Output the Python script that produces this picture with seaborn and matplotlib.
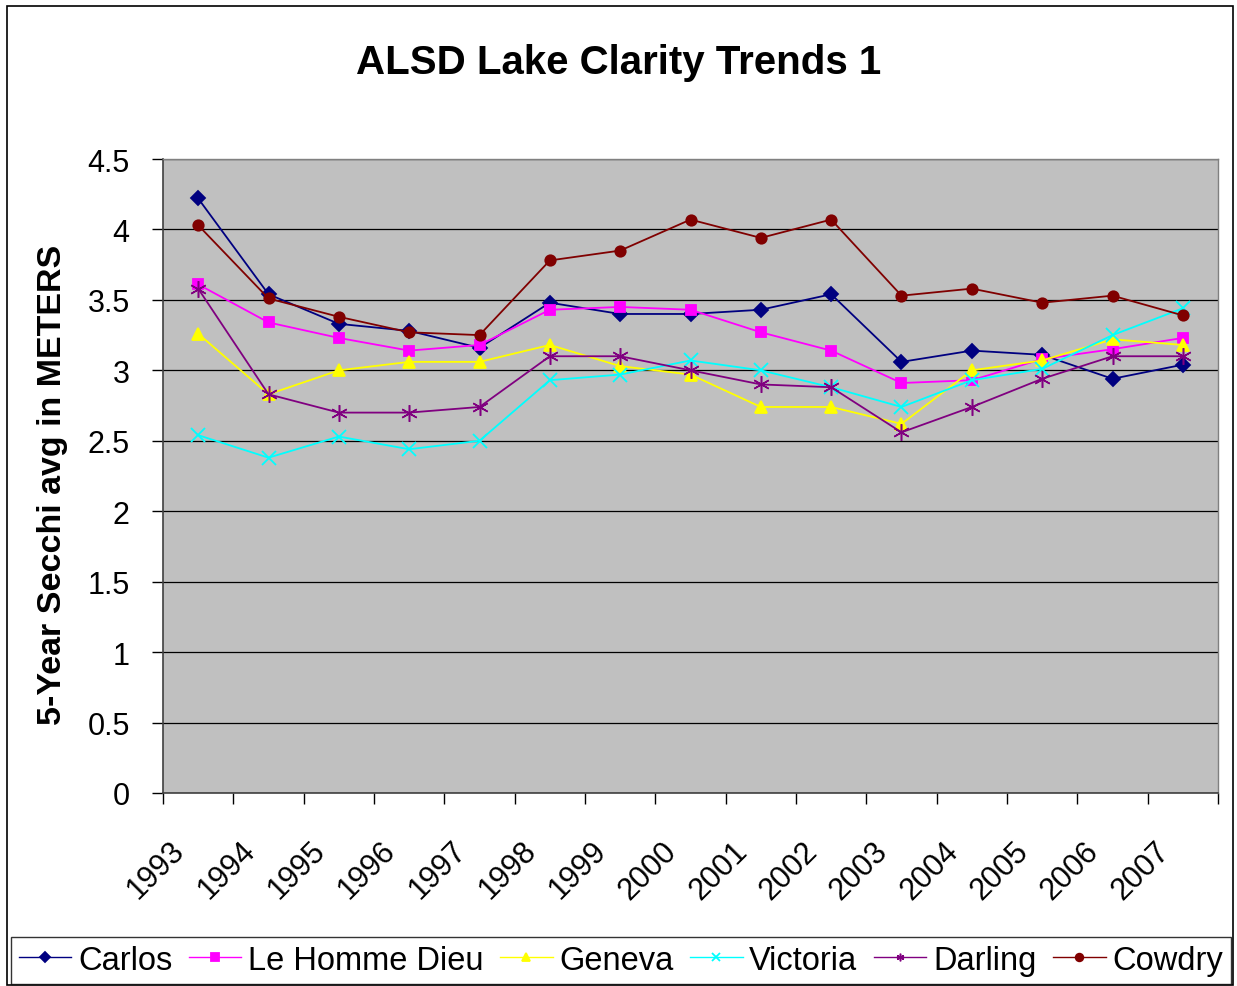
import matplotlib
matplotlib.use("Agg")
import matplotlib.pyplot as plt
import matplotlib.patches as mpatches
from matplotlib.transforms import ScaledTranslation
import numpy as np
import pandas as pd
import seaborn as sns

# ---- data ----
years = ["1993", "1994", "1995", "1996", "1997", "1998", "1999", "2000",
         "2001", "2002", "2003", "2004", "2005", "2006", "2007"]
carlos = [4.22, 3.54, 3.33, 3.28, 3.16, 3.48, 3.40, 3.40, 3.43, 3.54, 3.06, 3.14, 3.11, 2.94, 3.04]
le_homme_dieu = [3.61, 3.34, 3.23, 3.14, 3.18, 3.43, 3.45, 3.43, 3.27, 3.14, 2.91, 2.93, 3.08, 3.15, 3.23]
geneva = [3.26, 2.83, 3.00, 3.06, 3.06, 3.18, 3.03, 2.97, 2.74, 2.74, 2.62, 3.00, 3.07, 3.22, 3.18]
victoria = [2.54, 2.38, 2.53, 2.44, 2.50, 2.93, 2.97, 3.07, 3.00, 2.88, 2.74, 2.93, 3.01, 3.25, 3.44]
darling = [3.58, 2.83, 2.70, 2.70, 2.74, 3.10, 3.10, 3.00, 2.90, 2.88, 2.56, 2.74, 2.94, 3.10, 3.10]
cowdry = [4.03, 3.51, 3.38, 3.27, 3.25, 3.78, 3.85, 4.07, 3.94, 4.07, 3.53, 3.58, 3.48, 3.53, 3.39]
series_names = ["Carlos", "Le Homme Dieu", "Geneva", "Victoria", "Darling", "Cowdry"]
y_ticks = [0, 0.5, 1, 1.5, 2, 2.5, 3, 3.5, 4, 4.5]
y_tick_labels = ["0", "0.5", "1", "1.5", "2", "2.5", "3", "3.5", "4", "4.5"]

series_values = [carlos, le_homme_dieu, geneva, victoria, darling, cowdry]
colors = ["#000080", "#FF00FF", "#FFFF00", "#00FFFF", "#800080", "#800000"]
markers = ["D", "s", "^", "x", (6, 2, 0), "o"]
msizes = [7, 7.5, 8.5, 9.5, 12, 7.5]
medgew = [1.3, 1.3, 1.3, 1.3, 1.1, 1.3]

plt.rcParams["font.family"] = ["Liberation Sans", "DejaVu Sans"]

fig = plt.figure(figsize=(12.37, 9.87), dpi=100)
ax = fig.add_axes([163 / 1237, 1 - 794 / 987, 1055 / 1237, 634 / 987])
ax.set_facecolor("#C0C0C0")

idx = np.arange(len(years))
for name, vals, c, m, ms, mew in zip(series_names, series_values, colors, markers, msizes, medgew):
    df = pd.DataFrame({"x": idx, "y": vals})
    sns.lineplot(data=df, x="x", y="y", ax=ax, color=c, marker=m, markersize=ms,
                 markeredgecolor=c, markerfacecolor=c, markeredgewidth=mew,
                 linewidth=1.3, label=name, legend=False)

ax.set_xlim(-0.5, len(years) - 0.5)
ax.set_ylim(0, 4.5)
ax.set_yticks(y_ticks)
ax.set_yticklabels(y_tick_labels)
ax.yaxis.grid(True, color="black", linewidth=0.9)
ax.set_axisbelow(True)

# x: ticks at boundaries, labels at centers
ax.set_xticks(np.arange(-0.5, len(years), 1.0))
ax.set_xticklabels([])
ax.set_xticks(idx, minor=True)
ax.set_xticklabels(years, minor=True, rotation=45, ha="right", va="center",
                   rotation_mode="anchor", fontsize=22)
ax.tick_params(axis="x", which="minor", length=0, pad=38)
ax.tick_params(axis="x", which="major", length=8, width=1.0, color="black", direction="out")
ax.tick_params(axis="y", length=8, width=1.0, color="black", direction="out", pad=16, labelsize=22)
offset = ScaledTranslation(-18 / 100, 0, fig.dpi_scale_trans)
for lab in ax.get_xticklabels(minor=True):
    lab.set_transform(lab.get_transform() + offset)

for side in ["top", "right"]:
    ax.spines[side].set_color("#808080")
    ax.spines[side].set_linewidth(1.0)
for side in ["left", "bottom"]:
    ax.spines[side].set_color("#404040")
    ax.spines[side].set_linewidth(1.2)

ax.set_xlabel("")
ax.set_ylabel("5-Year Secchi avg in METERS", fontsize=24.5, fontweight="bold")
ax.yaxis.set_label_coords(-0.09, 0.487)

fig.text(0.5, 1 - 63 / 987, "ALSD Lake Clarity Trends 1", ha="center", va="center",
         fontsize=29, fontweight="bold")

# legend
handles, labels = ax.get_legend_handles_labels()
leg = fig.legend(handles, labels, loc="lower left", ncol=6, mode="expand",
                 bbox_to_anchor=(11 / 1237, 2 / 987, 1220 / 1237, 50 / 987),
                 bbox_transform=fig.transFigure, frameon=True, fancybox=False,
                 edgecolor="black", fontsize=23.5, handlelength=1.6, handletextpad=0.2,
                 borderpad=0.25, columnspacing=0.4, borderaxespad=0)
leg.get_frame().set_linewidth(1.0)
for h in leg.legend_handles:
    h.set_markersize(5.5)
    h.set_linewidth(1.0)

# figure border
fig.patches.append(mpatches.Rectangle((7 / 1237, 1 / 987), 1226 / 1237, 979 / 987,
                                      transform=fig.transFigure, fill=False,
                                      edgecolor="black", linewidth=1.2))

fig.savefig("out.png", dpi=100)
